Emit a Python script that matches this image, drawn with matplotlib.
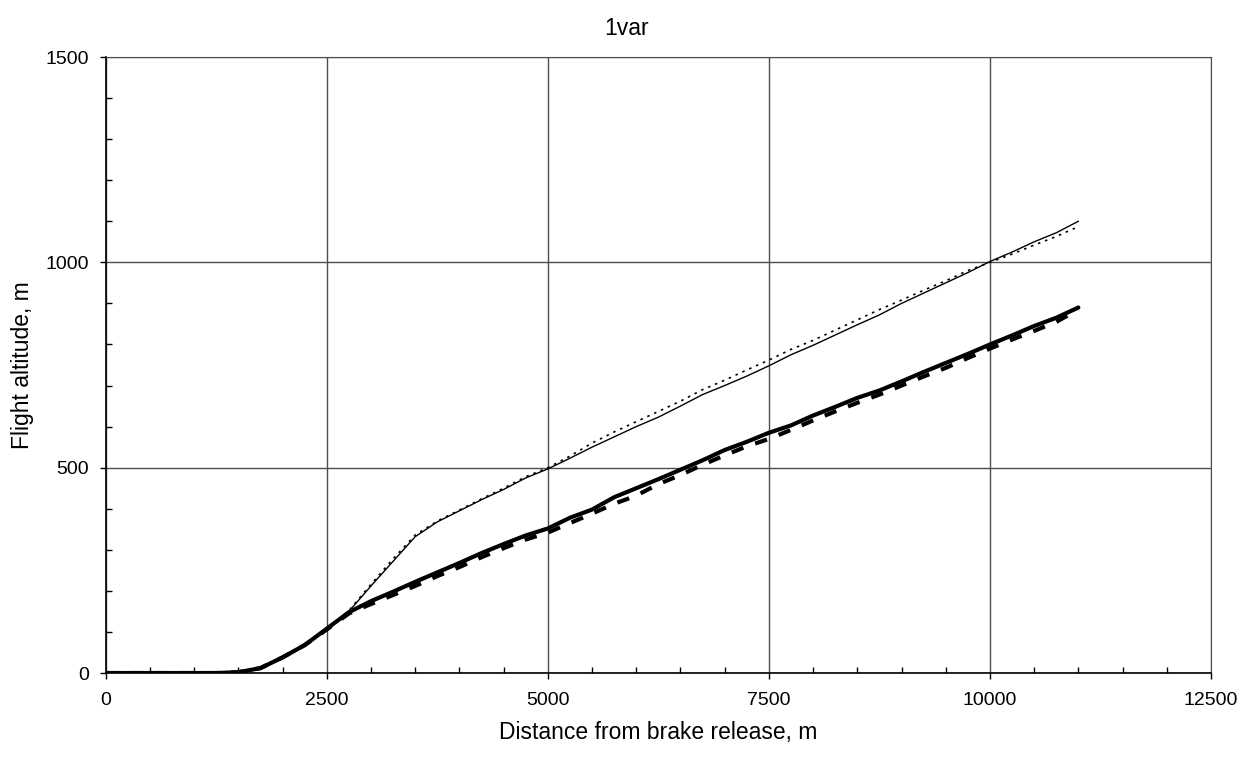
import matplotlib.pyplot as plt
from matplotlib.ticker import MultipleLocator

plt.rcParams['font.family'] = ['Liberation Sans', 'DejaVu Sans']

# --- data ---
dist = [0, 250, 500, 750, 1000, 1250, 1500, 1750, 2000, 2250, 2500, 2750,
        3000, 3250, 3500, 3750, 4000, 4250, 4500, 4750, 5000, 5250, 5500,
        5750, 6000, 6250, 6500, 6750, 7000, 7250, 7500, 7750, 8000, 8250,
        8500, 8750, 9000, 9250, 9500, 9750, 10000, 10250, 10500, 10750, 11000]

alt_thin = [0, 0, 0, 0, 0, 0, 2, 12, 38, 68, 108, 150,
            212, 272, 332, 368, 395, 422, 447, 475, 497, 523, 550,
            575, 600, 623, 650, 678, 700, 723, 748, 775, 798, 823,
            848, 872, 900, 925, 950, 975, 1002, 1025, 1050, 1072, 1100]

alt_thin_dot = [0, 0, 0, 0, 0, 0, 2, 12, 38, 68, 108, 152,
                216, 278, 336, 370, 397, 424, 450, 478, 500, 528, 560,
                587, 612, 637, 662, 690, 713, 738, 762, 788, 810, 835,
                860, 885, 908, 932, 955, 980, 1000, 1020, 1042, 1063, 1087]

alt_thick = [0, 0, 0, 0, 0, 0, 2, 12, 38, 68, 108, 148,
             175, 198, 222, 245, 268, 292, 314, 335, 352, 378, 398,
             428, 450, 472, 495, 518, 543, 563, 585, 603, 627, 648,
             670, 688, 710, 733, 755, 777, 800, 822, 845, 865, 890]

alt_thick_dash = [0, 0, 0, 0, 0, 0, 2, 12, 38, 68, 106, 145,
                  168, 190, 212, 236, 258, 282, 304, 325, 342, 365, 388,
                  412, 432, 460, 482, 507, 530, 552, 570, 592, 615, 637,
                  658, 678, 700, 722, 743, 767, 790, 812, 833, 855, 885]

fig = plt.figure(figsize=(12.54, 7.58), dpi=100)
ax = fig.add_axes([0.0843, 0.1121, 0.8814, 0.8127])

ax.plot(dist, alt_thin, color='black', lw=1.0, ls='-')
ax.plot(dist, alt_thin_dot, color='black', lw=1.2, ls=(0, (1.5, 3)))
ax.plot(dist, alt_thick, color='black', lw=3.0, ls='-', solid_capstyle='round')
ax.plot(dist, alt_thick_dash, color='black', lw=3.0, ls=(0, (3, 3)))

ax.set_xlim(0, 12500)
ax.set_ylim(0, 1500)
ax.xaxis.set_major_locator(MultipleLocator(2500))
ax.xaxis.set_minor_locator(MultipleLocator(500))
ax.yaxis.set_major_locator(MultipleLocator(500))
ax.yaxis.set_minor_locator(MultipleLocator(100))

ax.grid(which='major', color='#4d4d4d', lw=1.0)
ax.set_axisbelow(True)
ax.tick_params(which='major', direction='out', length=4.5, width=1.0,
               labelsize=14)
ax.tick_params(axis='x', which='major', pad=9.5)
ax.tick_params(axis='y', which='major', pad=7.5)
ax.tick_params(which='minor', direction='in', length=4, width=1.0)

for side in ['top', 'right']:
    ax.spines[side].set_color('#4d4d4d')
for side in ['left', 'bottom']:
    ax.spines[side].set_color('black')
    ax.spines[side].set_linewidth(1.2)

fig.text(0.5, 0.962, '1var', ha='center', va='center', fontsize=16.5)
fig.text(0.525, 0.033, 'Distance from brake release, m', ha='center', va='center',
         fontsize=16.5)
fig.text(0.018, 0.518, 'Flight altitude, m', ha='center', va='center',
         rotation=90, fontsize=16.5)

fig.savefig('out.png', dpi=100)
